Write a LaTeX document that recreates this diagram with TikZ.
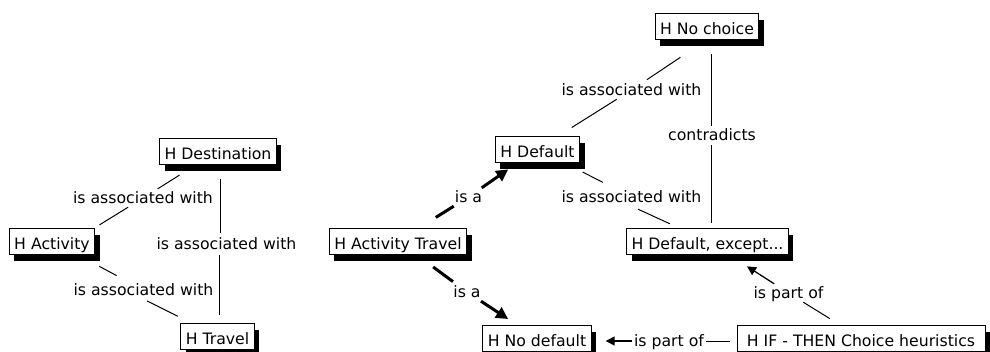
\documentclass[tikz,border=0pt]{standalone}
\usepackage{fontspec}
\setmainfont{DejaVu Sans}
\usetikzlibrary{arrows.meta,shadows}
\begin{document}
\begin{tikzpicture}[x=1pt,y=-1pt,
  font=\fontsize{15.7}{18}\selectfont,
  concept/.style={draw=black,line width=1pt,fill=white,inner xsep=5pt,inner ysep=2pt,
    text height=19pt,text depth=3pt,
    drop shadow={shadow xshift=5pt,shadow yshift=-6.5pt,fill=black,opacity=1}},
  phrase/.style={inner xsep=1.5pt,inner ysep=3pt,text height=11pt,text depth=1pt,anchor=base},
  link/.style={line width=1pt},
  isaline/.style={line width=3pt},
  isa/.style={line width=3pt,-{Triangle[length=12pt,width=12pt]}},
  part/.style={line width=1.3pt,-{Triangle[length=9pt,width=9pt]}},
]
\useasboundingbox (0,0) rectangle (990,351);

% concepts
\node[concept] (dest) at (218,151) {H Destination};
\node[concept] (act) at (52,241) {H Activity};
\node[concept] (trav) at (217.5,336) {H Travel};
\node[concept] (actrav) at (398,241) {H Activity Travel};
\node[concept] (def) at (537.5,149) {H Default};
\node[concept] (nodef) at (537,338) {H No default};
\node[concept,minimum width=248pt] (ifthen) at (861,338) {H IF - THEN Choice heuristics};
\node[concept] (nochoice) at (707,26) {H No choice};
\node[concept] (defexc) at (707.5,241) {H Default, except...};

% linking phrases
\node[phrase] (l1) at (143,203) {is associated with};
\node[phrase] (l2) at (226.5,249) {is associated with};
\node[phrase] (l3) at (143.5,295) {is associated with};
\node[phrase] (l4) at (468.5,202) {is a};
\node[phrase] (l5) at (467,297) {is a};
\node[phrase] (l6) at (631.5,95) {is associated with};
\node[phrase] (l7) at (712,140) {contradicts};
\node[phrase] (l8) at (631.5,202) {is associated with};
\node[phrase] (l9) at (788.5,298) {is part of};
\node[phrase] (l10) at (669,346) {is part of};

% left group
\draw[link,shorten <=5pt] (act.north east) -- (l1);
\draw[link,shorten >=20pt] (l1) -- (dest);
\draw[link,shorten <=14pt,shorten >=2pt] ([xshift=2pt]dest.south) -- ([xshift=2pt]dest.south |- l2.north);
\draw[link,shorten <=2pt,shorten >=8pt] ([xshift=2pt]trav.north |- l2.south) -- ([xshift=2pt]trav.north);
\draw[link,shorten <=25pt,shorten >=11pt] (act) -- (l3);
\draw[link,shorten <=4pt,shorten >=14pt] (l3.south) -- (trav);

% is a
\draw[isaline,shorten <=19pt] (actrav) -- (l4);
\draw[isa,shorten >=12pt] (l4) -- (def);
\draw[isaline,shorten <=21pt,shorten >=2pt] (actrav) -- (l5);
\draw[isa,shorten >=10pt] (l5) -- (nodef);

% right group
\draw[link,shorten <=32pt,shorten >=2pt] (nochoice.south) -- (l6);
\draw[link,shorten >=15pt] (l6) -- (def);
\draw[link,shorten <=14pt] ([xshift=4pt]nochoice.south) -- ([xshift=4pt]nochoice.south |- l7.north);
\draw[link,shorten <=1pt,shorten >=5pt] ([xshift=3.5pt]defexc.north |- l7.south) -- ([xshift=3.5pt]defexc.north);
\draw[link,shorten <=21pt,shorten >=12pt] (def) -- (l8);
\draw[link,shorten <=7pt,shorten >=9pt] (l8.south) -- (defexc);

% is part of
\draw[link,shorten <=11pt] (ifthen) -- (l9);
\draw[part,shorten >=22pt] (l9) -- (defexc);
\draw[link,shorten <=7pt] (ifthen.west |- l10) -- (l10);
\draw[part,shorten >=14pt] (l10) -- (nodef.east |- l10);
\end{tikzpicture}
\end{document}
